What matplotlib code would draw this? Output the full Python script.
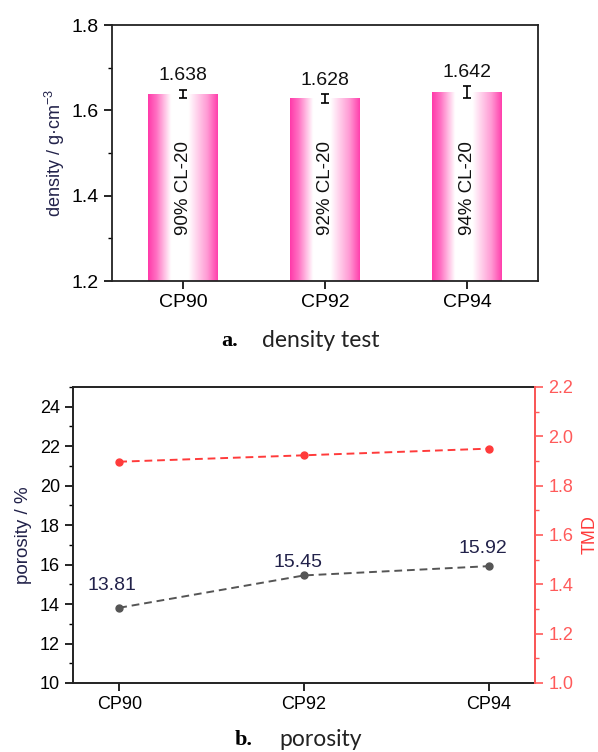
import matplotlib
matplotlib.use("Agg")
import matplotlib.pyplot as plt
import numpy as np
from matplotlib.colors import LinearSegmentedColormap
from matplotlib.ticker import MultipleLocator, FormatStrFormatter

plt.rcParams['font.family'] = ['Liberation Sans', 'DejaVu Sans']
plt.rcParams['mathtext.fontset'] = 'custom'
plt.rcParams['mathtext.rm'] = 'Liberation Sans'

# ---- data ----
samples = ["CP90", "CP92", "CP94"]
density = [1.638, 1.628, 1.642]
density_err = [0.010, 0.010, 0.014]
bar_labels = ["90% CL-20", "92% CL-20", "94% CL-20"]
porosity = [13.81, 15.45, 15.92]
tmd = [1.897, 1.923, 1.950]

NAVY = "#22224a"
RED = "#ff3b3b"
RED_TICK = "#ff5a5a"

fig = plt.figure(figsize=(5.98, 7.52), dpi=100)

# ---------- panel a ----------
ax1 = fig.add_axes([0.1873, 0.6263, 0.7124, 0.3404])
cmap = LinearSegmentedColormap.from_list(
    "pinkgrad",
    [(0.0, "#ff3aa9"), (0.12, "#ff70c2"), (0.33, "#ffffff"),
     (0.58, "#ffffff"), (0.85, "#ff9ad4"), (1.0, "#ff3fac")])
grad = np.linspace(0, 1, 256).reshape(1, -1)
w = 0.49
x = np.arange(len(samples))
for xi, v, e, lab in zip(x, density, density_err, bar_labels):
    ax1.imshow(grad, cmap=cmap, aspect="auto",
               extent=(xi - w / 2, xi + w / 2, 1.2, v), zorder=2)
    ax1.errorbar(xi, v, yerr=e, fmt="none", ecolor="black", elinewidth=1.2,
                 capsize=3, capthick=1.2, zorder=3)
    ax1.annotate(f"{v:.3f}", (xi, v + e), xytext=(0, 4), textcoords="offset points",
                 ha="center", va="bottom", fontsize=14, color="#111111")
    ax1.text(xi, 1.418, lab, rotation=90, ha="center", va="center",
             fontsize=13.5, color="#111111", zorder=4)
ax1.set_xlim(-0.5, 2.5)
ax1.set_ylim(1.2, 1.8)
ax1.set_xticks(x)
ax1.set_xticklabels(samples)
ax1.yaxis.set_major_locator(MultipleLocator(0.2))
ax1.yaxis.set_minor_locator(MultipleLocator(0.1))
ax1.yaxis.set_major_formatter(FormatStrFormatter("%.1f"))
ax1.tick_params(axis="both", direction="out", labelsize=14, width=1.2, length=6)
ax1.tick_params(axis="y", which="minor", direction="out", width=1.0, length=3)
ax1.tick_params(axis="x", which="minor", bottom=False)
for s in ax1.spines.values():
    s.set_linewidth(1.3)
    s.set_color("#222222")
ax1.set_ylabel("density / g·cm$^{-3}$", fontsize=13, color=NAVY)
ax1.yaxis.set_label_coords(-0.106, 0.5)

fig.text(0.384, 0.547, "a.", fontsize=16, fontweight="bold",
         family=["Liberation Serif", "DejaVu Serif"], ha="center", va="center")
fig.text(0.438, 0.547, "density test", fontsize=16.5, family=["Lato", "DejaVu Sans"],
         ha="left", va="center", color="#222222")

# ---------- panel b ----------
ax2 = fig.add_axes([0.1221, 0.0918, 0.7726, 0.3936])
ax2.plot(x, porosity, linestyle="--", color="#555555", marker="o", markersize=5,
         linewidth=1.4, dashes=(4, 2.5), zorder=3)
ax2.set_xlim(-0.25, 2.25)
ax2.set_ylim(10, 25)
ax2.set_xticks(x)
ax2.set_xticklabels(samples)
ax2.yaxis.set_major_locator(MultipleLocator(2))
ax2.yaxis.set_minor_locator(MultipleLocator(1))
ax2.tick_params(axis="both", direction="out", labelsize=13, width=1.2, length=6)
ax2.tick_params(axis="y", which="minor", direction="out", width=1.0, length=3)
ax2.tick_params(axis="x", which="minor", bottom=False)
ax2.set_ylabel("porosity / %", fontsize=13.5, color=NAVY)
ax2.yaxis.set_label_coords(-0.089, 0.5)
for s in ax2.spines.values():
    s.set_linewidth(1.4)
    s.set_color("#222222")

offsets = [(-5, 16), (-4.3, 9.5), (-4.3, 12.5)]
for xi, p, off in zip(x, porosity, offsets):
    ax2.annotate(f"{p:.2f}", (xi, p), xytext=off, textcoords="offset points",
                 ha="center", va="center", fontsize=14, color=NAVY, zorder=1)

ax3 = ax2.twinx()
ax3.plot(x, tmd, linestyle="--", color=RED, marker="o", markersize=5,
         linewidth=1.4, dashes=(4, 2.5), zorder=3)
ax3.set_ylim(1.0, 2.2)
ax3.yaxis.set_major_locator(MultipleLocator(0.2))
ax3.yaxis.set_minor_locator(MultipleLocator(0.1))
ax3.yaxis.set_major_formatter(FormatStrFormatter("%.1f"))
ax3.tick_params(axis="y", which="major", direction="out", labelsize=13,
                colors=RED_TICK, width=1.2, length=6)
ax3.tick_params(axis="y", which="minor", direction="out", colors=RED_TICK,
                width=1.0, length=3)
ax3.spines["right"].set_color(RED_TICK)
ax3.spines["right"].set_linewidth(1.4)
ax3.spines["left"].set_visible(False)
ax3.spines["top"].set_visible(False)
ax3.spines["bottom"].set_visible(False)
ax3.set_ylabel("TMD", fontsize=13, color=RED)
ax3.yaxis.set_label_coords(1.100, 0.5)

fig.text(0.408, 0.016, "b.", fontsize=16, fontweight="bold",
         family=["Liberation Serif", "DejaVu Serif"], ha="center", va="center")
fig.text(0.468, 0.016, "porosity", fontsize=16.5, family=["Lato", "DejaVu Sans"],
         ha="left", va="center", color="#222222")

fig.savefig("out.png", dpi=100)
